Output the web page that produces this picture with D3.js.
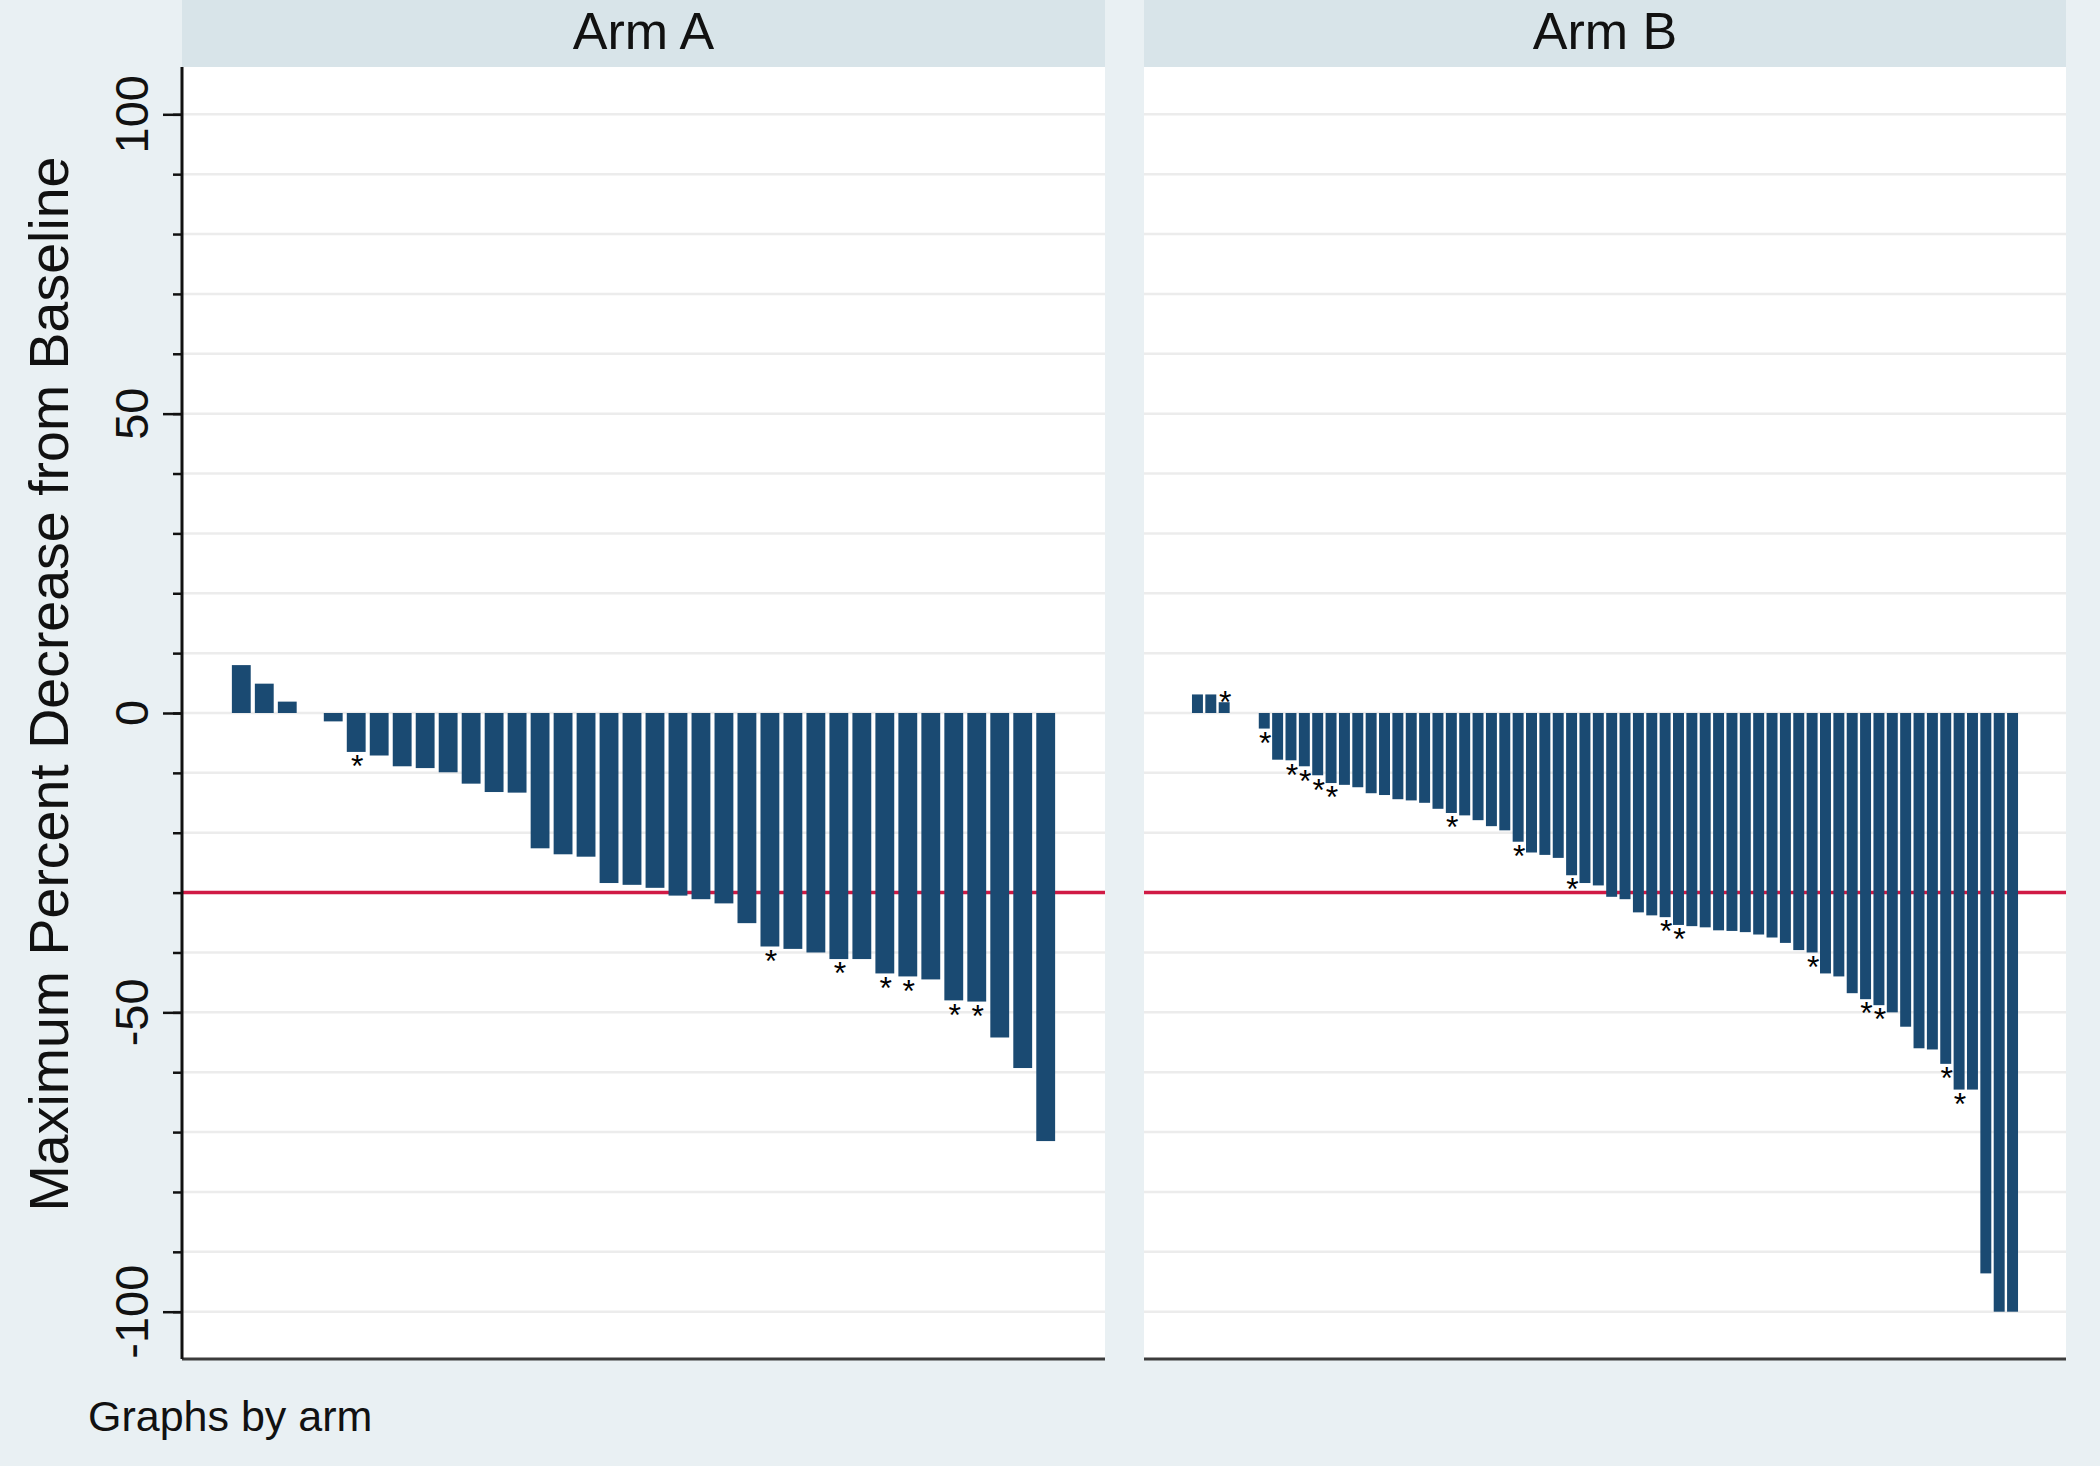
<!DOCTYPE html>
<html>
<head>
<meta charset="utf-8">
<script src="https://cdn.jsdelivr.net/npm/d3@7"></script>
<style>
  body { margin: 0; background: #e9f0f3; }
  text { font-family: "Liberation Sans", Arial, sans-serif; }
</style>
</head>
<body>
<div id="container"></div>
<script>

// Data: one value per patient slot, sorted
var armNames = ["Arm A", "Arm B"];

var armAValues = [8.0, 4.9, 1.9, 0, -1.4, -6.5, -7.1, -8.9, -9.2, -9.9, -11.8, -13.2,
  -13.3, -22.6, -23.6, -24.0, -28.4, -28.7, -29.2, -30.5, -31.1, -31.8, -35.1, -39.0,
  -39.4, -40.0, -41.1, -41.1, -43.5, -44.0, -44.5, -48.0, -48.2, -54.2, -59.3, -71.5];

var armBValues = [3.1, 3.1, 1.8, 0, 0, -2.6, -7.8, -7.9, -8.9, -10.4, -11.7, -12.0,
  -12.4, -13.4, -13.7, -14.4, -14.6, -15.0, -16.0, -16.7, -17.1, -17.9, -18.9, -19.6,
  -21.5, -23.3, -23.7, -24.2, -27.1, -28.4, -28.8, -30.7, -31.1, -33.3, -33.8, -34.1,
  -35.4, -35.6, -35.8, -36.3, -36.4, -36.6, -37.0, -37.5, -38.4, -39.6, -40.0, -43.5,
  -44.0, -46.8, -47.8, -48.8, -50.0, -52.4, -56.0, -56.2, -58.6, -62.9, -62.9, -93.6,
  -100, -100];

// slots (1-based) that carry an asterisk
var armAStars = [6, 24, 27, 29, 30, 32, 33];
var armBStars = [3, 6, 8, 9, 10, 11, 20, 25, 29, 36, 37, 47, 51, 52, 57, 58];

var yMajorTicks = [100, 50, 0, -50, -100];
var yMinorTicks = d3.range(-100, 101, 10);
var refLine = -30;

var yTitle = "Maximum Percent Decrease from Baseline";
var note = "Graphs by arm";

// Layout
var width = 2100,
    height = 1466;
var plotTop = 67,
    plotBottom = 1359;
var panels = [
  { name: armNames[0], values: armAValues, stars: armAStars, x0: 182, x1: 1105, domain: [-1.58, 38.58] },
  { name: armNames[1], values: armBValues, stars: armBStars, x0: 1144, x1: 2066, domain: [-3, 66] }
];

var svg = d3.select("#container")
  .append("svg")
    .attr("width", width)
    .attr("height", height);

svg.append("rect")
  .attr("width", width)
  .attr("height", height)
  .attr("fill", "#e9f0f3");

var y = d3.scaleLinear()
  .domain([-107.9, 107.9])
  .range([plotBottom, plotTop]);

panels.forEach(function(p) {

  var x = d3.scaleLinear()
    .domain(p.domain)
    .range([p.x0, p.x1]);
  var step = x(2) - x(1);
  var barW = step * 0.82;

  var g = svg.append("g");

  // header strip
  g.append("rect")
    .attr("x", p.x0)
    .attr("y", 0)
    .attr("width", p.x1 - p.x0)
    .attr("height", plotTop)
    .attr("fill", "#d8e4e9");

  g.append("text")
    .attr("x", (p.x0 + p.x1) / 2)
    .attr("y", 49)
    .attr("text-anchor", "middle")
    .style("font-size", "52px")
    .attr("fill", "#111")
    .text(p.name);

  // plot region
  g.append("rect")
    .attr("x", p.x0)
    .attr("y", plotTop)
    .attr("width", p.x1 - p.x0)
    .attr("height", plotBottom - plotTop)
    .attr("fill", "white");

  // gridlines
  g.selectAll(".grid")
    .data(yMinorTicks)
    .enter()
    .append("line")
      .attr("x1", p.x0)
      .attr("x2", p.x1)
      .attr("y1", function(d) { return y(d); })
      .attr("y2", function(d) { return y(d); })
      .attr("stroke", "#ececec")
      .attr("stroke-width", 2.5);

  // reference line
  g.append("line")
    .attr("x1", p.x0)
    .attr("x2", p.x1)
    .attr("y1", y(refLine))
    .attr("y2", y(refLine))
    .attr("stroke", "#d01a45")
    .attr("stroke-width", 3.5);

  // bars
  g.selectAll(".bar")
    .data(p.values)
    .enter()
    .append("rect")
      .attr("x", function(d, i) { return x(i + 1) - barW / 2; })
      .attr("y", function(d) { return y(Math.max(0, d)); })
      .attr("width", barW)
      .attr("height", function(d) { return Math.abs(y(d) - y(0)); })
      .attr("fill", "#1a4a72");

  // asterisks
  var fs = 32;
  g.selectAll(".star")
    .data(p.stars)
    .enter()
    .append("text")
      .attr("x", function(d) { return x(d) + 1; })
      .attr("y", function(d) {
        var v = p.values[d - 1];
        var c = y(v) + (v < 0 ? 7 : -7);
        return c + 0.57 * fs;
      })
      .attr("text-anchor", "middle")
      .style("font-size", fs + "px")
      .attr("fill", "#000")
      .text("*");

  // bottom axis line
  g.append("line")
    .attr("x1", p.x0)
    .attr("x2", p.x1)
    .attr("y1", plotBottom)
    .attr("y2", plotBottom)
    .attr("stroke", "#3c3c3c")
    .attr("stroke-width", 3);
});

// Left axis
var axisX = panels[0].x0;
var yAxisMinor = d3.axisLeft(y)
  .tickValues(yMinorTicks)
  .tickSize(9)
  .tickFormat("");
var yAxisMajor = d3.axisLeft(y)
  .tickValues(yMajorTicks)
  .tickSize(19)
  .tickFormat("");

var axMinor = svg.append("g")
  .attr("transform", "translate(" + axisX + ",0)")
  .call(yAxisMinor);
var axMajor = svg.append("g")
  .attr("transform", "translate(" + axisX + ",0)")
  .call(yAxisMajor);

[axMinor, axMajor].forEach(function(ax) {
  ax.select(".domain").remove();
  ax.selectAll("line").attr("stroke", "#111").attr("stroke-width", 2.5);
});

svg.append("line")
  .attr("x1", axisX)
  .attr("x2", axisX)
  .attr("y1", plotTop)
  .attr("y2", plotBottom)
  .attr("stroke", "#111")
  .attr("stroke-width", 3);

// rotated tick labels
svg.selectAll(".ylab")
  .data(yMajorTicks)
  .enter()
  .append("text")
    .attr("transform", function(d) { return "translate(148," + y(d) + ") rotate(-90)"; })
    .attr("text-anchor", "middle")
    .style("font-size", "47px")
    .attr("fill", "#111")
    .text(function(d) { return d; });

// y title
svg.append("text")
  .attr("transform", "translate(68," + 684 + ") rotate(-90)")
  .attr("text-anchor", "middle")
  .style("font-size", "55.5px")
  .attr("fill", "#111")
  .text(yTitle);

// note
svg.append("text")
  .attr("x", 88)
  .attr("y", 1431)
  .style("font-size", "43px")
  .attr("fill", "#111")
  .text(note);

</script>
</body>
</html>
